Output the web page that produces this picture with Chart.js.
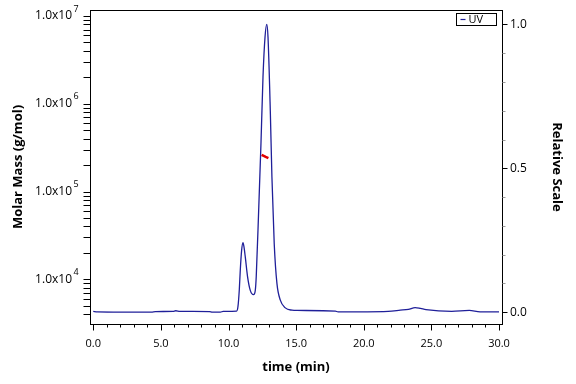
<!DOCTYPE html>
<html><head><meta charset="utf-8">
<script src="https://cdn.jsdelivr.net/npm/chart.js@4.4.0/dist/chart.umd.min.js"></script>
<style>html,body{margin:0;padding:0;background:#fff}</style>
</head><body>
<canvas id="c" width="576" height="384"></canvas>
<script>
// ---- data ----
const uvTime = [0.0, 0.3, 4.3, 4.6, 5.9, 6.1, 6.4, 8.6, 8.8, 9.4, 9.6, 10.6, 10.7, 10.8, 10.87, 10.97, 11.07, 11.15, 11.24, 11.41, 11.61, 11.85, 11.98, 12.05, 12.23, 12.4, 12.55, 12.7, 12.83, 12.92, 13.09, 13.21, 13.38, 13.58, 13.83, 14.2, 14.7, 15.07, 17.9, 18.1, 21.8, 22.7, 23.3, 23.8, 24.2, 24.6, 26.5, 27.8, 28.6, 30.0];
const uvRelative = [0.003, 0.001, 0.000, 0.002, 0.003, 0.005, 0.003, 0.002, 0.000, 0.000, 0.003, 0.004, 0.02, 0.08, 0.146, 0.215, 0.242, 0.225, 0.192, 0.123, 0.076, 0.061, 0.076, 0.123, 0.354, 0.586, 0.817, 0.956, 1.0, 0.956, 0.70, 0.47, 0.238, 0.10, 0.042, 0.015, 0.007, 0.006, 0.004, 0.001, 0.003, 0.007, 0.010, 0.016, 0.013, 0.009, 0.003, 0.006, 0.001, 0.001];
const massTime = [12.45, 12.6, 12.75, 12.95];
const molarMass = [262000, 255000, 248000, 240000];
const xTickValues = [0, 5, 10, 15, 20, 25, 30];
const xTickLabels = ['0.0', '5.0', '10.0', '15.0', '20.0', '25.0', '30.0'];
const massTickValues = [1e4, 1e5, 1e6, 1e7];
const massTickLabels = ['1.0x10', '1.0x10', '1.0x10', '1.0x10'];
const massTickExponents = ['4', '5', '6', '7'];
const relTickValues = [0, 0.5, 1.0];
const relTickLabels = ['0.0', '0.5', '1.0'];
const seriesName = 'UV';

const FONT = "'Open Sans', 'DejaVu Sans', sans-serif";
const UV_COLOR = '#1f1f99';
const MASS_COLOR = '#e00000';

function findIdx(arr, v, tol) {
  for (let i = 0; i < arr.length; i++) if (Math.abs(arr[i] - v) <= tol * Math.max(1, Math.abs(arr[i]))) return i;
  return -1;
}
function fixPad(s) { s.paddingTop = 0; s.paddingBottom = 0; s.paddingLeft = 0; s.paddingRight = 0; }

const decorPlugin = {
  id: 'decor',
  afterDraw(chart) {
    const ctx = chart.ctx;
    const a = chart.chartArea;
    const sx = chart.scales.x, sy = chart.scales.y, sr = chart.scales.y1;
    ctx.save();
    ctx.strokeStyle = '#000';
    ctx.lineWidth = 1;
    ctx.strokeRect(Math.round(a.left) + 0.5, Math.round(a.top) + 0.5, Math.round(a.right - a.left), Math.round(a.bottom - a.top));
    const L = Math.round(a.left) + 0.5, R = Math.round(a.right) + 0.5, B = Math.round(a.bottom) + 0.5;
    // x ticks (every minute, major every 5)
    ctx.beginPath();
    for (let v = 0; v <= 30; v++) {
      const px = Math.round(sx.getPixelForValue(v)) + 0.5;
      const len = (v % 5 === 0) ? 6 : 3;
      ctx.moveTo(px, B); ctx.lineTo(px, B + len);
    }
    ctx.stroke();
    // left log ticks
    ctx.beginPath();
    for (let e = 3; e <= 7; e++) {
      for (let m = 1; m <= 9; m++) {
        const v = m * Math.pow(10, e);
        if (v < sy.min || v > sy.max) continue;
        const py = Math.round(sy.getPixelForValue(v)) + 0.5;
        ctx.moveTo(L, py); ctx.lineTo(L - 7, py);
      }
    }
    ctx.stroke();
    // exponents for the left labels
    ctx.fillStyle = '#000';
    ctx.font = "9px " + FONT;
    ctx.textAlign = 'left';
    ctx.textBaseline = 'middle';
    massTickValues.forEach((v, i) => {
      const py = sy.getPixelForValue(v);
      ctx.fillText(massTickExponents[i], L - 18 + 1, py - 7);
    });
    // right ticks
    for (let k = 0; k <= 10; k++) {
      const v = k / 10;
      const py = Math.round(sr.getPixelForValue(v)) + 0.5;
      const major = (k % 5 === 0);
      ctx.strokeStyle = major ? '#000' : '#9a9a9a';
      ctx.beginPath();
      ctx.moveTo(R, py); ctx.lineTo(R + (major ? 5 : 3), py);
      ctx.stroke();
    }
    // legend box
    const lx = 456.5, ly = 13.5, lw = 40, lh = 12;
    ctx.strokeStyle = '#000';
    ctx.lineWidth = 1;
    ctx.fillStyle = '#fff';
    ctx.fillRect(lx, ly, lw, lh);
    ctx.strokeRect(lx, ly, lw, lh);
    ctx.strokeStyle = UV_COLOR;
    ctx.lineWidth = 1.2;
    ctx.beginPath();
    ctx.moveTo(lx + 4, ly + 6); ctx.lineTo(lx + 9, ly + 6);
    ctx.stroke();
    ctx.fillStyle = '#000';
    ctx.font = "11px " + FONT;
    ctx.textAlign = 'left';
    ctx.textBaseline = 'middle';
    ctx.fillText(seriesName, lx + 12, ly + 6.5);
    ctx.restore();
  }
};

new Chart(document.getElementById('c'), {
  type: 'line',
  data: {
    datasets: [
      {
        label: 'Molar Mass',
        data: massTime.map((t, i) => ({ x: t, y: molarMass[i] })),
        yAxisID: 'y',
        borderColor: MASS_COLOR,
        borderWidth: 2.5,
        pointRadius: 0,
        order: 0
      },
      {
        label: seriesName,
        data: uvTime.map((t, i) => ({ x: t, y: uvRelative[i] })),
        yAxisID: 'y1',
        borderColor: UV_COLOR,
        borderWidth: 1.3,
        pointRadius: 0,
        cubicInterpolationMode: 'monotone',
        order: 1
      }
    ]
  },
  options: {
    responsive: false,
    animation: false,
    devicePixelRatio: 1,
    layout: { padding: { top: 10, left: 0, right: 0, bottom: 0 } },
    plugins: { legend: { display: false }, tooltip: { enabled: false } },
    scales: {
      x: {
        type: 'linear',
        min: -0.24, max: 30.22,
        grid: { display: false, drawTicks: false },
        border: { display: false },
        ticks: {
          stepSize: 1, autoSkip: false, includeBounds: false, maxRotation: 0, minRotation: 0,
          color: '#000', font: { family: FONT, size: 11 }, padding: 13,
          callback: (v) => { const i = findIdx(xTickValues, v, 1e-6); return i >= 0 ? xTickLabels[i] : ''; }
        },
        title: { display: true, text: 'time (min)', color: '#000', font: { family: FONT, size: 13, weight: 'bold' }, padding: { top: 0, bottom: 9 } },
        afterFit: (s) => { s.height = 60; fixPad(s); }
      },
      y: {
        type: 'logarithmic',
        position: 'left',
        min: 3100, max: 1.17e7,
        grid: { display: false, drawTicks: false },
        border: { display: false },
        ticks: {
          autoSkip: false, color: '#000', font: { family: FONT, size: 12 }, padding: 18,
          callback: (v) => { const i = findIdx(massTickValues, v, 1e-9); return i >= 0 ? massTickLabels[i] : ''; }
        },
        title: { display: true, text: 'Molar Mass (g/mol)', color: '#000', font: { family: FONT, size: 13, weight: 'bold' }, padding: { top: 10, bottom: 0 } },
        afterFit: (s) => { s.width = 90; fixPad(s); }
      },
      y1: {
        type: 'linear',
        position: 'right',
        min: -0.041, max: 1.05,
        grid: { display: false, drawTicks: false },
        border: { display: false },
        ticks: {
          stepSize: 0.1, autoSkip: false, includeBounds: false, color: '#000', font: { family: FONT, size: 12 }, padding: 8,
          callback: (v) => { const i = findIdx(relTickValues, v, 1e-6); return i >= 0 ? relTickLabels[i] : ''; }
        },
        title: { display: true, text: 'Relative Scale', color: '#000', font: { family: FONT, size: 13, weight: 'bold' }, padding: { top: 11, bottom: 0 } },
        afterFit: (s) => { s.width = 74; fixPad(s); }
      }
    }
  },
  plugins: [decorPlugin]
});
</script>
</body></html>
